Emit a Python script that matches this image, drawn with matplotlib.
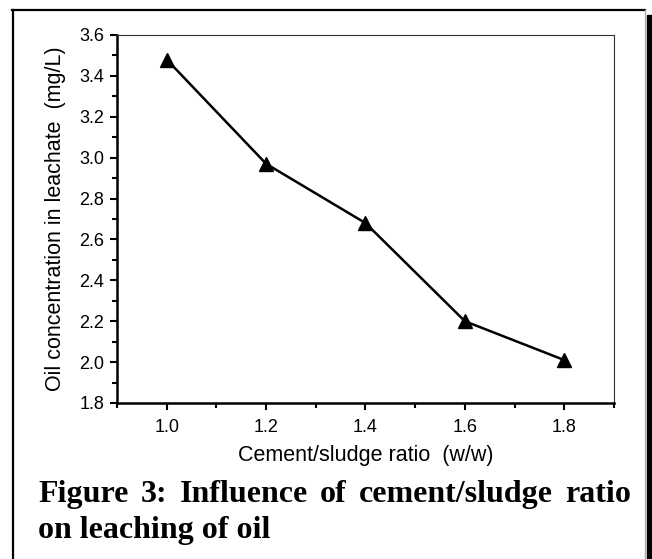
import numpy as np
import matplotlib
matplotlib.use('Agg')
import matplotlib.pyplot as plt
from matplotlib.patches import Rectangle
from matplotlib.lines import Line2D
from matplotlib.ticker import MultipleLocator

# data
ratio = [1.0, 1.2, 1.4, 1.6, 1.8]
oil_conc = [3.48, 2.97, 2.68, 2.20, 2.01]

x_label = 'Cement/sludge ratio  (w/w)'
y_label = 'Oil concentration in leachate  (mg/L)'
caption_lines = ['Figure 3: Influence of cement/sludge ratio',
                 'on leaching of oil']

W, H = 652, 559
fig = plt.figure(figsize=(W / 100, H / 100), dpi=100)
plt.rcParams['font.family'] = ['Liberation Sans', 'DejaVu Sans']


def fx(px):
    return px / W


def fy(py):
    return 1 - py / H


ax = fig.add_axes([fx(117), fy(403), fx(614) - fx(117), fy(35) - fy(403)])
ax.plot(ratio, oil_conc, color='black', lw=1.8, marker='^', markersize=10,
        clip_on=False)

ax.set_xlim(0.9, 1.9)
ax.set_ylim(1.8, 3.6)
ax.xaxis.set_major_locator(MultipleLocator(0.2))
ax.xaxis.set_minor_locator(MultipleLocator(0.1))
ax.yaxis.set_major_locator(MultipleLocator(0.2))
ax.yaxis.set_minor_locator(MultipleLocator(0.1))
ax.set_xticks([1.0, 1.2, 1.4, 1.6, 1.8])
ax.xaxis.set_major_formatter(plt.FormatStrFormatter('%.1f'))
ax.yaxis.set_major_formatter(plt.FormatStrFormatter('%.1f'))

ax.tick_params(which='major', direction='out', length=5, width=1.5,
               labelsize=13, pad=4)
ax.tick_params(axis='x', which='major', pad=6.5)
ax.tick_params(which='minor', direction='out', length=3.5, width=1.5)
for s in ['left', 'bottom']:
    ax.spines[s].set_linewidth(1.8)
for s in ['top', 'right']:
    ax.spines[s].set_linewidth(0.8)
    ax.spines[s].set_color('#333333')

ax.set_xlabel(x_label, fontsize=15.5, va='center')
ax.set_ylabel(y_label, fontsize=15.5, va='center')
ax.xaxis.set_label_coords(0.5, (403 - 456) / 368)
ax.yaxis.set_label_coords((56 - 117) / 497, 0.5)

# figure frame with shadow on the right
fig.add_artist(Line2D([fx(13), fx(13)], [fy(10), fy(560)], color='black',
                      lw=1.6, transform=fig.transFigure))
fig.add_artist(Line2D([fx(12), fx(645)], [fy(10), fy(10)], color='black',
                      lw=1.6, transform=fig.transFigure))
fig.add_artist(Line2D([fx(645), fx(645)], [fy(10), fy(560)], color='#aaaaaa',
                      lw=1.0, transform=fig.transFigure))
fig.add_artist(Rectangle((fx(647), 0), fx(6), fy(15), color='black',
                         transform=fig.transFigure))

# justified caption, first line stretched between x=38 and x=631
cap_font = dict(family='Liberation Serif', weight='bold', fontsize=23)
fig.canvas.draw()
renderer = fig.canvas.get_renderer()
words = caption_lines[0].split(' ')
texts = [fig.text(0, fy(502), w, ha='left', va='baseline', **cap_font)
         for w in words]
widths = [t.get_window_extent(renderer).width for t in texts]
gap = (631 - 38 - sum(widths)) / (len(words) - 1)
x = 38
for t, w in zip(texts, widths):
    t.set_x(fx(x))
    x += w + gap
fig.text(fx(38), fy(538), caption_lines[1], ha='left', va='baseline',
         **cap_font)

fig.savefig('out.png', dpi=100)
